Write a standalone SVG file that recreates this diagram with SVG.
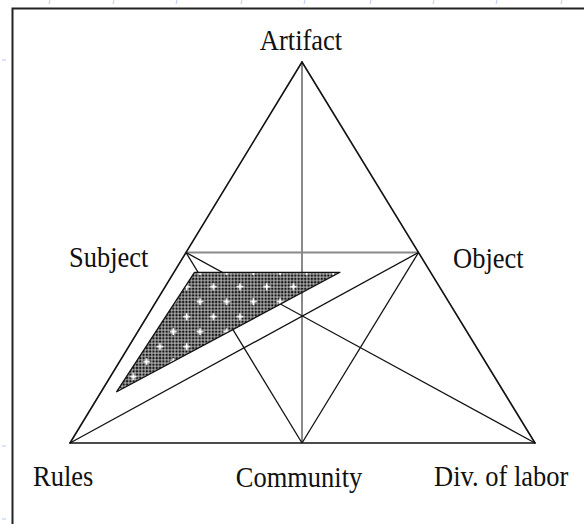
<svg xmlns="http://www.w3.org/2000/svg" width="584" height="524" viewBox="0 0 584 524">
<style>
.lbl{font-family:"Liberation Serif","Times New Roman",serif;font-size:26.5px;fill:#111;}
.edge{stroke:#111;stroke-width:1.6;fill:none;stroke-linecap:round;}
.inner{stroke:#111;stroke-width:1.3;fill:none;}
.gray{stroke:#8a8a8a;stroke-width:2;fill:none;}
.tick{stroke:#b8c8ee;stroke-width:1;}
</style>
<defs>
<pattern id="dots" patternUnits="userSpaceOnUse" x="0" y="0" width="3.3" height="3.3">
<rect width="3.3" height="3.3" fill="#a8a8a8"/>
<circle cx="1.65" cy="1.65" r="1.25" fill="#151515"/>
</pattern>
<pattern id="stars" patternUnits="userSpaceOnUse" x="206.67" y="279.2" width="26.67" height="30">
<path d="M3.2 7.5h7M6.67 4v7M16.5 22.5h7M20 19v7" stroke="#fff" stroke-width="1.5"/>
<circle cx="6.67" cy="7.5" r="1.6" fill="#fff"/>
<circle cx="20" cy="22.5" r="1.6" fill="#fff"/>
</pattern>
</defs>
<rect width="584" height="524" fill="#fff"/>
<g id="ruler">
<line class="tick" x1="50" y1="0" x2="49" y2="4"/>
<line class="tick" x1="114" y1="0" x2="113" y2="4"/>
<line class="tick" x1="177" y1="0" x2="176" y2="4"/>
<line class="tick" x1="242" y1="0" x2="241" y2="4"/>
<line class="tick" x1="305" y1="0" x2="304" y2="4"/>
<line class="tick" x1="371" y1="0" x2="370" y2="4"/>
<line class="tick" x1="434" y1="0" x2="433" y2="4"/>
<line class="tick" x1="497" y1="0" x2="496" y2="4"/>
<line class="tick" x1="562" y1="0" x2="561" y2="4"/>
<line class="tick" x1="2" y1="60" x2="6" y2="60"/>
<line class="tick" x1="2" y1="446" x2="6" y2="446"/>
<line class="tick" x1="2" y1="519" x2="6" y2="519"/>
</g>
<path d="M12.5 524V8.5H584" fill="none" stroke="#222" stroke-width="2"/>
<g id="connectors">
<line class="gray" x1="302" y1="62" x2="302" y2="443"/>
<line class="gray" x1="186" y1="252.5" x2="418.5" y2="252.5"/>
<line class="inner" x1="186" y1="252.5" x2="302" y2="443"/>
<line class="inner" x1="418.5" y1="252.5" x2="302" y2="443"/>
<line class="inner" x1="186" y1="252.5" x2="535" y2="443"/>
<line class="inner" x1="70" y1="443" x2="418.5" y2="252.5"/>
<line class="edge" x1="302" y1="62" x2="70" y2="443"/>
<line class="edge" x1="302" y1="62" x2="535" y2="443"/>
<line class="edge" x1="70" y1="443" x2="535" y2="443" stroke-width="2.6"/>
</g>
<g id="shaded">
<polygon points="194.5,272.3 340,272.3 116.7,391.7" fill="url(#dots)"/>
<polygon points="194.5,272.3 340,272.3 116.7,391.7" fill="url(#stars)" stroke="#111" stroke-width="1.3" stroke-linejoin="round"/>
</g>
<g id="artifact"><text class="lbl" text-anchor="middle" transform="translate(301,50) scale(1,1.12)">Artifact</text></g>
<g id="subject"><text class="lbl" transform="translate(69,266.5) scale(1,1.12)">Subject</text></g>
<g id="object"><text class="lbl" transform="translate(453,268) scale(1,1.12)">Object</text></g>
<g id="rules"><text class="lbl" transform="translate(33,485.5) scale(1,1.12)">Rules</text></g>
<g id="community"><text class="lbl" text-anchor="middle" transform="translate(299,486.5) scale(1,1.12)">Community</text></g>
<g id="divlabor"><text class="lbl" transform="translate(434,486) scale(1,1.12)">Div. of labor</text></g>
</svg>
